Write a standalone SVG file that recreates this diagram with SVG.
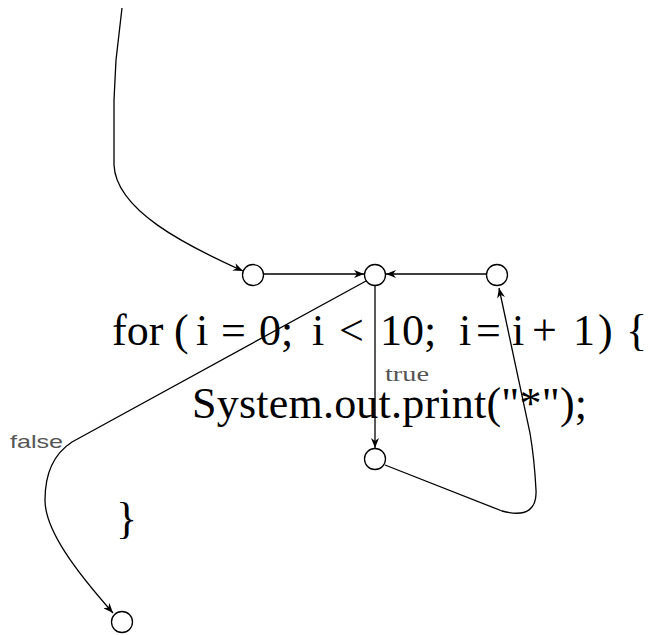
<svg xmlns="http://www.w3.org/2000/svg" width="651" height="635" viewBox="0 0 651 635">
<style>
.node{fill:#fff;stroke:#000;stroke-width:1.3}
.edge{fill:none;stroke:#000;stroke-width:1.3}
.code{font-family:"Liberation Serif","DejaVu Serif",serif;font-size:44px;fill:#000}
.lbl{fill:#555}
</style>
<defs>
<marker id="arr" markerUnits="userSpaceOnUse" markerWidth="11" markerHeight="8" refX="10" refY="4" orient="auto">
<path d="M0,0 L10,4 L0,8 L3,4 z" fill="#000"/>
</marker>
</defs>
<rect width="651" height="635" fill="#fff"/>
<g id="code-text">
<text class="code" y="345"><tspan x="112">for</tspan><tspan x="174">(</tspan><tspan x="196">i</tspan><tspan x="221">=</tspan><tspan x="259">0;</tspan><tspan x="312">i</tspan><tspan x="339">&lt;</tspan><tspan x="380">10;</tspan><tspan x="459">i</tspan><tspan x="476">=</tspan><tspan x="512">i</tspan><tspan x="532">+</tspan><tspan x="573">1</tspan><tspan x="598">)</tspan><tspan x="626">{</tspan></text>
<text class="code" x="192" y="418" textLength="395" lengthAdjust="spacing">System.out.print("*");</text>
<text class="code" x="116" y="533">}</text>
</g>
<g id="connectors">
<path class="edge" d="M122,8 L116,60 L114,100 L114,165 C116,210 185,245 243,271" marker-end="url(#arr)"/>
<path class="edge" d="M263,274 L364,274" marker-end="url(#arr)"/>
<path class="edge" d="M486,274 L386,274" marker-end="url(#arr)"/>
<path class="edge" d="M375,286 L375,448" marker-end="url(#arr)"/>
<path class="edge" d="M366,281 L72,442 C52,455 45,475 45,500 C45,530 75,570 113,613" marker-end="url(#arr)"/>
<path class="edge" d="M385,465 L502,511 C528,518 537,508 536,490 C535,470 532,445 530,433 L499,288" marker-end="url(#arr)"/>
<text class="lbl" x="385" y="381" font-family="Liberation Serif, DejaVu Serif, serif" font-size="20" textLength="44" lengthAdjust="spacingAndGlyphs">true</text>
<text class="lbl" x="10" y="448" font-family="Liberation Sans, DejaVu Sans, sans-serif" font-size="19" textLength="53" lengthAdjust="spacingAndGlyphs">false</text>
</g>
<g id="n-entry"><circle class="node" cx="253" cy="275" r="10.5"/></g>
<g id="n-cond"><circle class="node" cx="375" cy="275" r="10.5"/></g>
<g id="n-update"><circle class="node" cx="497" cy="275" r="10.5"/></g>
<g id="n-body"><circle class="node" cx="375" cy="459" r="10.5"/></g>
<g id="n-exit"><circle class="node" cx="122" cy="622" r="10.5"/></g>
</svg>
